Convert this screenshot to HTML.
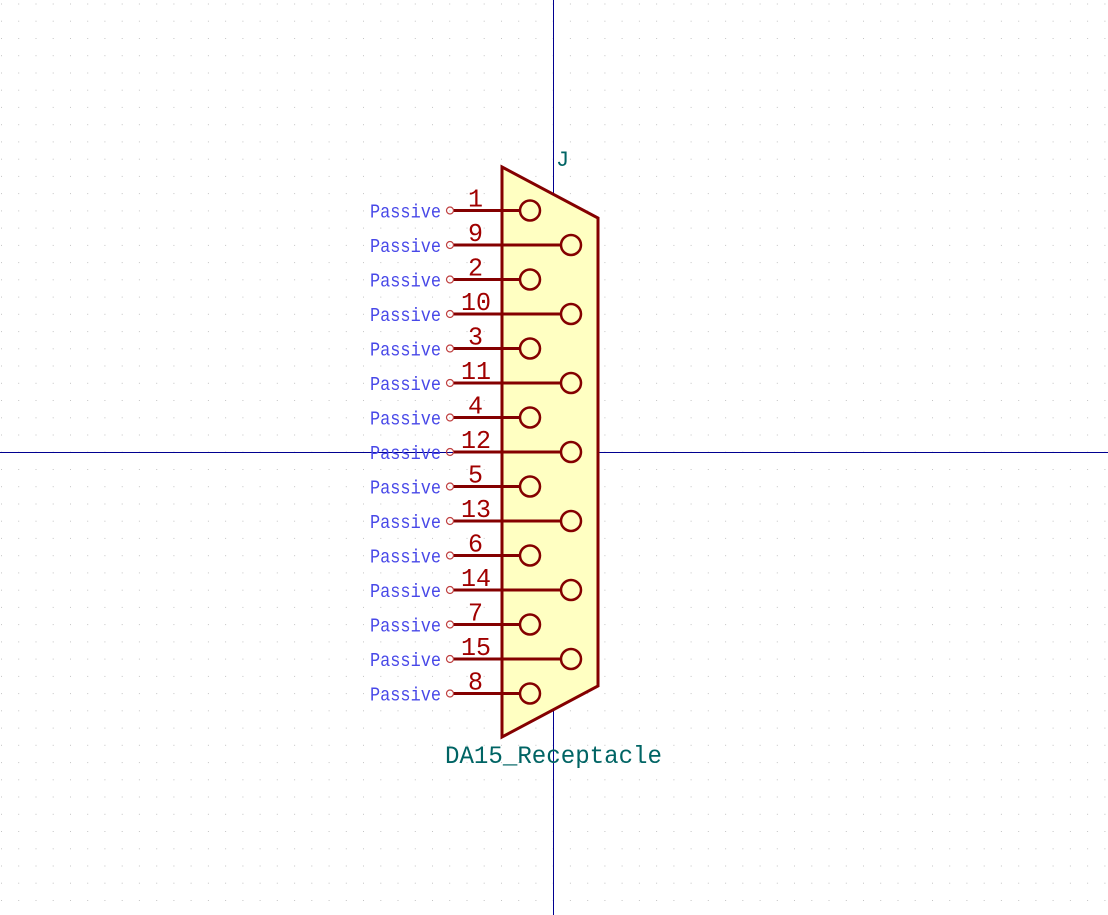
<!DOCTYPE html>
<html><head><meta charset="utf-8"><style>
html,body{margin:0;padding:0;background:#fff;}
svg{display:block;}
</style></head><body>
<svg id="c" width="1108" height="915" viewBox="0 0 1108 915" xmlns="http://www.w3.org/2000/svg">
<g id="grid"></g>
<line x1="553.5" y1="0" x2="553.5" y2="915" stroke="#000090" stroke-width="1"/>
<line x1="0" y1="452.5" x2="1108" y2="452.5" stroke="#000090" stroke-width="1"/>
<polygon points="502,167 598,218 598,686 502,737" fill="#ffffc2" stroke="#840000" stroke-width="3" stroke-linejoin="miter"/>
<g id="pins"></g>
<text x="556" y="166" font-family="Liberation Mono, DejaVu Sans Mono, monospace" font-size="22" fill="#006464">J</text>
<text x="445" y="763" textLength="217" lengthAdjust="spacingAndGlyphs" font-family="Liberation Mono, DejaVu Sans Mono, monospace" font-size="25" fill="#006464">DA15_Receptacle</text>
</svg>
<script>
const pinNumbers = [1,9,2,10,3,11,4,12,5,13,6,14,7,15,8];
const pinTypes = ["Passive","Passive","Passive","Passive","Passive","Passive","Passive","Passive","Passive","Passive","Passive","Passive","Passive","Passive","Passive"];
const NS="http://www.w3.org/2000/svg";
const grid=document.getElementById('grid');
const step=17.24;
for(let gy=3.5;gy<915;gy+=step){for(let gx=1;gx<1108;gx+=step){
  const r=document.createElementNS(NS,'rect');
  r.setAttribute('x',gx.toFixed(1));r.setAttribute('y',gy.toFixed(1));r.setAttribute('width',1);r.setAttribute('height',1);r.setAttribute('fill','#c4c4c4');
  
  
  grid.appendChild(r);}}
const pins=document.getElementById('pins');
function pinY(i){return 210.5+i*34.5;}
pinNumbers.forEach((n,i)=>{
  const y=pinY(i), even=i%2===1;
  const cx=even?571:530;
  const g=document.createElementNS(NS,'g');
  
  
  const nw=n>9?30:15;
  g.innerHTML=`<line x1="453" y1="${y}" x2="${cx-10}" y2="${y}" stroke="#840000" stroke-width="3"/>
<circle cx="${cx}" cy="${y}" r="10" fill="none" stroke="#840000" stroke-width="2.5"/>
<circle cx="450" cy="${y}" r="3.5" fill="none" stroke="#c04040" stroke-width="1.2"/>
<text x="370" y="${y+7}" textLength="71" lengthAdjust="spacingAndGlyphs" font-family="Liberation Mono, DejaVu Sans Mono, monospace" font-size="19" fill="#4848e8">${pinTypes[i]}</text>
<text x="${n>9?461:468}" y="${y-4}" textLength="${nw}" lengthAdjust="spacingAndGlyphs" font-family="Liberation Mono, DejaVu Sans Mono, monospace" font-size="26" fill="#a00000">${n}</text>`;
  pins.appendChild(g);
});
</script>
</body></html>
